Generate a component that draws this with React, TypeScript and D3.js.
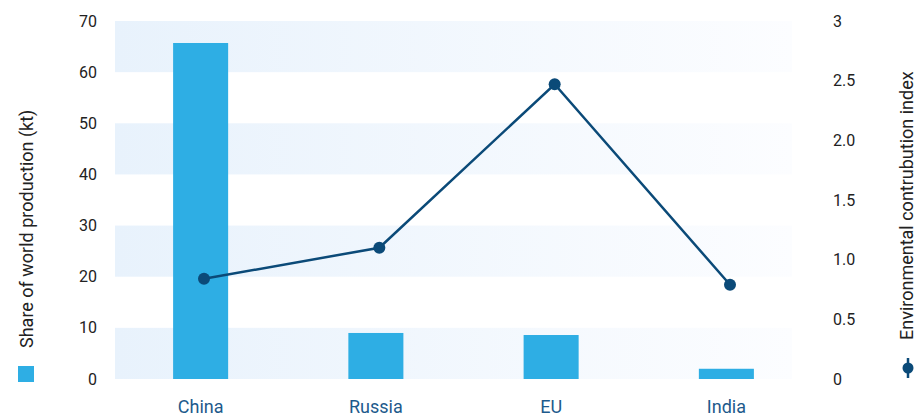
import React from "react";
import * as d3 from "d3";

const categories = ["China", "Russia", "EU", "India"];
const production = [65.7, 9.0, 8.6, 2.0];
const envIndex = [0.84, 1.1, 2.47, 0.79];
const leftTicks = [0, 10, 20, 30, 40, 50, 60, 70];
const rightTicks = [0, 0.5, 1.0, 1.5, 2.0, 2.5, 3];
const rightTickLabels = ["0", "0.5", "1.0", "1.5", "2.0", "2.5", "3"];
const bandStarts = [60, 40, 20, 0];

const W = 917;
const H = 417;
const FONT = "Roboto, 'Open Sans', sans-serif";

export default function App() {
  const plotLeft = 115;
  const plotRight = 792;
  const top = 21;
  const bottom = 379;

  const x = d3.scaleBand<string>().domain(categories).range([113, 814]).padding(0);
  const xLine = d3.scalePoint<string>().domain(categories).range([204, 730]);
  const yL = d3.scaleLinear().domain([0, 70]).range([bottom, top]);
  const yR = d3.scaleLinear().domain([0, 3]).range([bottom, top]);
  const barW = x.bandwidth() * 0.314;

  const line = d3
    .line<number>()
    .x((_, i) => xLine(categories[i])!)
    .y((d) => yR(d));

  return (
    <svg
      width={W}
      height={H}
      style={{ position: "absolute", left: 0, top: 0, display: "block" }}
      fontFamily={FONT}
    >
      <defs>
        <linearGradient id="bandGrad" gradientUnits="userSpaceOnUse" x1={plotLeft} x2={plotRight} y1={0} y2={0}>
          <stop offset="0%" stopColor="#e8f2fc" />
          <stop offset="100%" stopColor="#fcfdff" />
        </linearGradient>
      </defs>
      <rect x={0} y={0} width={W} height={H} fill="#ffffff" />
      {bandStarts.map((b) => (
        <rect
          key={b}
          x={plotLeft}
          y={yL(b + 10)}
          width={plotRight - plotLeft}
          height={yL(b) - yL(b + 10)}
          fill="url(#bandGrad)"
        />
      ))}
      {production.map((v, i) => (
        <rect
          key={categories[i]}
          x={x(categories[i])! + x.bandwidth() / 2 - barW / 2}
          y={yL(v)}
          width={barW}
          height={yL(0) - yL(v)}
          fill="#2eaee4"
        />
      ))}
      <path d={line(envIndex)!} fill="none" stroke="#0b4a78" strokeWidth={2.5} />
      {envIndex.map((v, i) => (
        <circle key={i} cx={xLine(categories[i])!} cy={yR(v)} r={6} fill="#0b4a78" />
      ))}
      {leftTicks.map((t) => (
        <text key={t} x={97} y={yL(t)} textAnchor="end" dominantBaseline="central" fontSize={16} fill="#222">
          {t}
        </text>
      ))}
      {rightTicks.map((t, i) => (
        <text key={t} x={833} y={yR(t)} textAnchor="start" dominantBaseline="central" fontSize={16} fill="#222">
          {rightTickLabels[i]}
        </text>
      ))}
      {categories.map((c) => (
        <text
          key={c}
          x={x(c)! + x.bandwidth() / 2}
          y={413}
          textAnchor="middle"
          fontSize={18}
          fill="#1d5a8c"
        >
          {c}
        </text>
      ))}
      <text transform="translate(33,348) rotate(-90)" textAnchor="start" fontSize={18} fill="#222">
        Share of world production (kt)
      </text>
      <rect x={18} y={366} width={16} height={16} fill="#2eaee4" />
      <text transform="translate(913,340) rotate(-90)" textAnchor="start" fontSize={18} fill="#222">
        Environmental contrubution index
      </text>
      <line x1={908} x2={908} y1={358} y2={378} stroke="#0b4a78" strokeWidth={2.5} />
      <circle cx={908} cy={368} r={5.5} fill="#0b4a78" />
    </svg>
  );
}
